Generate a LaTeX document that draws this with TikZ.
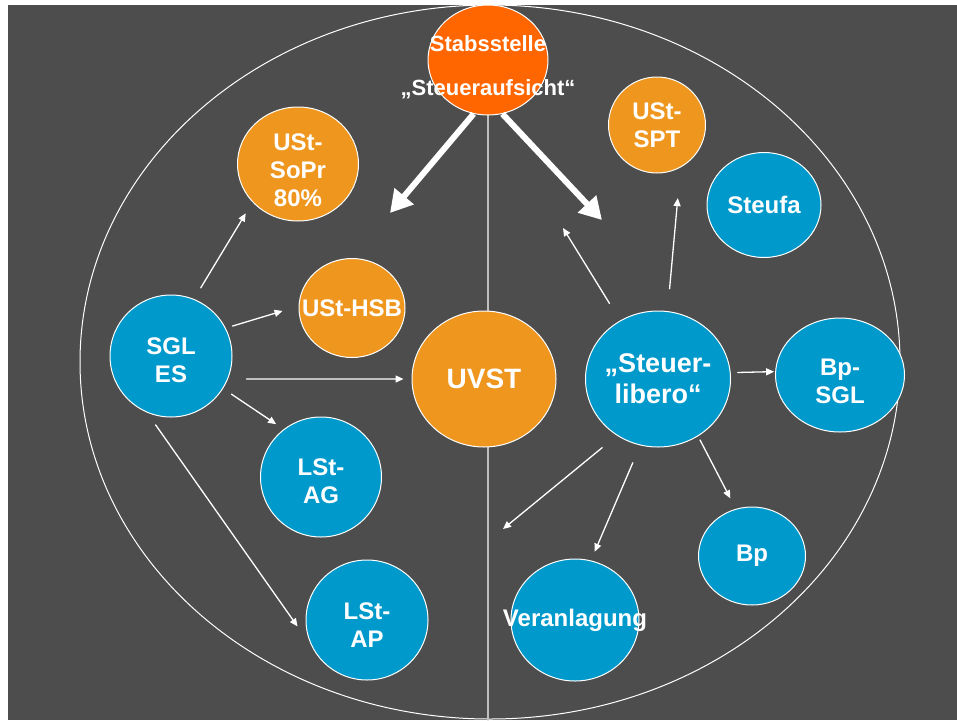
\documentclass[tikz,border=0pt]{standalone}
\usepackage{fontspec}
\setmainfont{Liberation Sans}
\usetikzlibrary{shapes.geometric,arrows.meta}
\definecolor{fondo}{RGB}{77,77,77}
\definecolor{naranja}{RGB}{239,150,31}
\definecolor{naranjafuerte}{RGB}{255,102,0}
\definecolor{azul}{RGB}{0,153,204}
\definecolor{linea}{RGB}{190,190,190}
\begin{document}
\begin{tikzpicture}[x=1pt, y=-1pt, line cap=round,
  unidad/.style={ellipse, draw=white, line width=1pt, inner sep=0pt},
  rotulo/.style={text=white, font=\bfseries\fontsize{24}{28}\selectfont, align=center},
  flecha/.style={draw=white, line width=1.3pt, -{Triangle[length=8pt,width=7pt]}},
  flechagorda/.style={draw=white, line width=6pt, line cap=butt, -{Triangle[length=22pt,width=24pt]}}]
  % el fondo y el marco
  \useasboundingbox (0,0) rectangle (957,720);
  \fill[fondo] (8,5) rectangle (957,720);
  \draw[white, line width=1pt] (490,362) ellipse [x radius=410pt, y radius=357pt];
  \draw[linea, line width=1.2pt] (488,115) -- (488,720);
  % la stabsstelle arriba
  \node[unidad, fill=naranjafuerte, minimum width=120, minimum height=110,
    label={[rotulo, font=\bfseries\fontsize{22}{44}\selectfont, yshift=-7pt]center:{Stabsstelle\\„Steueraufsicht“}}] (stab) at (488,60) {};
  % el lado izquierdo
  \node[unidad, fill=naranja, minimum width=121, minimum height=114,
    label={[rotulo, yshift=-6pt]center:{USt-\\SoPr\\80\%}}] (sopr) at (298,164) {};
  \node[unidad, fill=naranja, minimum width=106, minimum height=99,
    label={[rotulo]center:USt-HSB}] (hsb) at (352,308) {};
  \node[unidad, fill=azul, minimum width=122, minimum height=122,
    label={[rotulo, yshift=-4pt]center:{SGL\\ES}}] (sgl) at (171,356) {};
  \node[unidad, fill=azul, minimum width=121, minimum height=120,
    label={[rotulo, yshift=-4pt]center:{LSt-\\AG}}] (lag) at (321,477) {};
  \node[unidad, fill=azul, minimum width=122, minimum height=120,
    label={[rotulo, yshift=-5pt]center:{LSt-\\AP}}] (lap) at (367,620) {};
  % el centro
  \node[unidad, fill=naranja, minimum width=144, minimum height=136,
    label={[rotulo, font=\bfseries\fontsize{28}{32}\selectfont]center:UVST}] (uvst) at (484,379) {};
  % el lado derecho
  \node[unidad, fill=naranja, minimum width=97, minimum height=96,
    label={[rotulo]center:{USt-\\SPT}}] (spt) at (657,125) {};
  \node[unidad, fill=azul, minimum width=114, minimum height=105,
    label={[rotulo]center:Steufa}] (steufa) at (764,205) {};
  \node[unidad, fill=azul, minimum width=145, minimum height=136,
    label={[rotulo, font=\bfseries\fontsize{27}{31}\selectfont]center:{„Steuer-\\libero“}}] (lib) at (658,379) {};
  \node[unidad, fill=azul, minimum width=129, minimum height=114,
    label={[rotulo, yshift=-6pt]center:{Bp-\\SGL}}] (bpsgl) at (840,375) {};
  \node[unidad, fill=azul, minimum width=107, minimum height=98,
    label={[rotulo]center:Bp}] (bp) at (752,556) {};
  \node[unidad, fill=azul, minimum width=128, minimum height=122,
    label={[rotulo]center:Veranlagung}] (ver) at (575,620) {};
  % los extremos sueltos
  \coordinate (izq) at (390,213);
  \coordinate (der) at (602,220);
  \coordinate (libarriba) at (563,228);
  \coordinate (libabajo) at (503,529);
  % las flechas gordas
  \draw[flechagorda] (stab.-105) -- (izq);
  \draw[flechagorda] (stab.-75) -- (der);
  % las flechas de SGL ES
  \draw[flecha, shorten <=13pt, shorten >=13pt] (sgl.68.7) -- (sopr.220);
  \draw[flecha, shorten <=7pt, shorten >=16.7pt] (sgl.27.3) -- (hsb.178.2);
  \draw[flecha, shorten <=18.5pt, shorten >=8pt] (sgl.-22.2) -- (uvst.180);
  \draw[flecha, shorten <=10pt, shorten >=9pt] (sgl.-32.2) -- (lag.128);
  \draw[flecha, shorten <=15pt, shorten >=25pt] (sgl.-113.5) -- (lap.206.7);
  % las flechas del libero
  \draw[flecha, shorten <=20pt] (lib.123.7) -- (libarriba);
  \draw[flecha, shorten <=22.5pt, shorten >=30.7pt] (lib.82.4) -- (spt.-61.8);
  \draw[flecha, shorten <=7pt, shorten >=1pt] (lib.5) -- (bpsgl.177);
  \draw[flecha, shorten <=19pt] (lib.-126.5) -- (libabajo);
  \draw[flecha, shorten <=18.8pt, shorten >=9.5pt] (lib.-105.9) -- (ver.75.5);
  \draw[flecha, shorten <=4.2pt, shorten >=11.8pt] (lib.-55.8) -- (bp.109.5);
\end{tikzpicture}
\end{document}
